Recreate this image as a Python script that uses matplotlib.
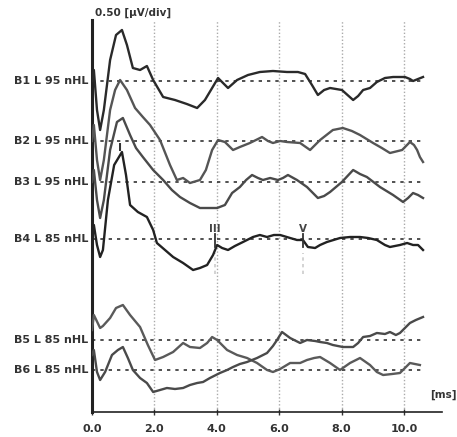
import matplotlib
matplotlib.use("Agg")
import matplotlib.pyplot as plt
import numpy as np

# ---- data (latency in ms, amplitude in display units relative to each trace baseline) ----
trace_labels = ["B1 L 95 nHL", "B2 L 95 nHL", "B3 L 95 nHL", "B4 L 85 nHL", "B5 L 85 nHL", "B6 L 85 nHL"]
baselines = [331, 271, 230, 173, 72, 42]

b1_t = [0, .06, .16, .26, .38, .58, .77, .96, 1.12, 1.31, 1.54, 1.76, 1.96, 2.28, 2.66, 3.04, 3.37, 3.62, 3.85, 4.04,
        4.2, 4.36, 4.65, 5.0, 5.38, 5.8, 6.25, 6.6, 6.83, 7.05, 7.24, 7.44, 7.63, 8.01, 8.37, 8.53, 8.69, 8.91, 9.13,
        9.39, 9.65, 10.03, 10.19, 10.29, 10.45, 10.61]
b1_a = [0, 11, -29, -49, -29, 21, 46, 51, 36, 13, 11, 15, 1, -16, -19, -23, -27, -19, -7, 3,
        -2, -7, 1, 6, 9, 10, 9, 9, 7, -4, -14, -9, -7, -9, -19, -15, -9, -7, -1,
        3, 4, 4, 2, 0, 2, 4]

b2_t = [0, .06, .16, .26, .38, .58, .74, .9, 1.12, 1.38, 1.63, 1.86, 2.18, 2.5, 2.72, 2.92, 3.14, 3.46, 3.65, 3.85,
        4.04, 4.26, 4.52, 4.74, 5.06, 5.45, 5.64, 5.8, 6.03, 6.25, 6.67, 6.99, 7.31, 7.72, 8.04, 8.33, 8.59, 9.01,
        9.29, 9.55, 9.94, 10.19, 10.32, 10.42, 10.51, 10.61]
b2_a = [0, 16, -19, -39, -19, 31, 51, 61, 51, 33, 24, 16, 1, -24, -39, -37, -42, -39, -29, -9,
        1, -1, -9, -6, -2, 4, 0, -2, 0, -1, -2, -9, 1, 11, 13, 10, 6, -2,
        -7, -12, -9, -1, -4, -9, -16, -21]

b3_t = [0, .06, .16, .26, .38, .58, .8, .99, 1.22, 1.41, 1.63, 1.96, 2.28, 2.56, 2.82, 3.14, 3.46, 3.78, 4.01, 4.26,
        4.49, 4.74, 4.94, 5.13, 5.32, 5.48, 5.71, 5.96, 6.12, 6.28, 6.57, 6.89, 7.24, 7.44, 7.63, 8.01, 8.37, 8.59,
        8.81, 9.23, 9.65, 9.97, 10.13, 10.29, 10.45, 10.61]
b3_a = [0, 12, -18, -36, -18, 32, 60, 64, 47, 34, 25, 12, 2, -8, -15, -21, -26, -26, -26, -23,
        -11, -5, 2, 7, 4, 2, 4, 2, 4, 7, 2, -5, -16, -14, -10, 0, 12, 8,
        5, -5, -13, -20, -16, -11, -13, -16]

b4_t = [0, .06, .16, .26, .35, .51, .71, .96, 1.09, 1.22, 1.47, 1.76, 1.96, 2.08, 2.34, 2.6, 2.92, 3.24, 3.46, 3.69,
        3.88, 4.01, 4.17, 4.36, 4.58, 4.84, 5.16, 5.38, 5.61, 5.83, 6.03, 6.35, 6.57, 6.76, 6.92, 7.15, 7.31, 7.53,
        7.95, 8.27, 8.59, 8.85, 9.13, 9.39, 9.55, 9.87, 10.1, 10.29, 10.45, 10.61]
b4_a = [0, 14, -6, -18, -11, 39, 74, 87, 64, 34, 27, 22, 9, -4, -11, -18, -24, -31, -29, -26,
        -16, -6, -9, -11, -7, -3, 2, 4, 2, 4, 4, 1, -1, -1, -8, -9, -6, -3,
        1, 2, 2, 1, -1, -6, -8, -6, -4, -6, -6, -11]

b5_t = [0, .06, .26, .35, .58, .77, .99, 1.22, 1.54, 1.79, 2.02, 2.28, 2.6, 2.92, 3.14, 3.46, 3.69, 3.85, 4.01, 4.33,
        4.65, 4.97, 5.29, 5.61, 5.8, 6.03, 6.35, 6.67, 6.89, 7.12, 7.31, 7.63, 7.95, 8.27, 8.59, 8.91, 9.13, 9.33,
        9.62, 9.87, 10.03, 10.19, 10.35, 10.51]
b5_a = [10, 25, 12, 14, 22, 32, 35, 25, 13, -5, -20, -17, -12, -3, -7, -8, -3, 3, 0, -10,
        -15, -18, -23, -30, -32, -29, -23, -23, -20, -18, -17, -23, -30, -23, -18, -25, -32, -35,
        -34, -33, -28, -23, -24, -25]

b6_t = [0, .06, .16, .26, .42, .64, .83, .99, 1.15, 1.31, 1.54, 1.76, 1.96, 2.18, 2.4, 2.66, 2.92, 3.14, 3.37, 3.56,
        3.78, 4.1, 4.33, 4.52, 4.74, 4.97, 5.29, 5.61, 5.8, 5.93, 6.09, 6.35, 6.67, 6.89, 7.15, 7.31, 7.53, 7.72,
        8.04, 8.37, 8.53, 8.69, 8.91, 9.13, 9.39, 9.55, 9.74, 9.87, 10.03, 10.19, 10.38, 10.61]
b6_a = [15, 20, -2, -10, -2, 15, 20, 23, 12, 0, -8, -13, -22, -20, -18, -19, -18, -15, -13, -12,
        -8, -3, 0, 3, 6, 8, 12, 17, 24, 30, 38, 32, 27, 30, 29, 28, 27, 25,
        23, 23, 27, 33, 34, 37, 36, 38, 35, 37, 42, 47, 50, 53]

traces_t = [b1_t, b2_t, b3_t, b4_t, b5_t, b6_t]
traces_a = [b1_a, b2_a, b3_a, b4_a, b5_a, b6_a]
trace_colors = ["#2a2a2a", "#555555", "#4a4a4a", "#222222", "#5a5a5a", "#4a4a4a"]

xticks = [0, 2, 4, 6, 8, 10]
xtick_labels = ["0.0", "2.0", "4.0", "6.0", "8.0", "10.0"]

# peak markers: (label, latency, trace index)
peaks = [("I", 0.90, 3), ("III", 3.94, 3), ("V", 6.76, 3)]

# ---- figure ----
W, H = 457, 437
fig = plt.figure(figsize=(W / 100, H / 100), dpi=100)
fig.patch.set_facecolor("white")
ax = fig.add_axes([92 / W, 25 / H, 350 / W, 392 / H])
ax.set_xlim(0, 350 / 31.2)
ax.set_ylim(0, 392)

for s in ["top", "right"]:
    ax.spines[s].set_visible(False)
ax.spines["left"].set_linewidth(2.2)
ax.spines["left"].set_color("#222222")
ax.spines["bottom"].set_linewidth(1.2)
ax.spines["bottom"].set_color("#222222")

ax.set_xticks(xticks)
ax.set_xticklabels(xtick_labels, fontsize=8, fontweight="bold", color="#333333")
ax.tick_params(axis="x", direction="inout", length=5, width=1, pad=6, color="#333333")
ax.set_yticks([])

# vertical dotted grid
for xt in xticks[1:]:
    ax.axvline(xt, color="#aaaaaa", lw=1.0, ls=(0, (1, 1.5)), zorder=1)

# baselines and traces
for lab, base, t, a, c in zip(trace_labels, baselines, traces_t, traces_a, trace_colors):
    ax.plot([0, 10.6], [base, base], color="#333333", lw=1.2, ls=(0, (2, 3)), zorder=2)
    ax.plot(t, np.array(a) + base, color=c, lw=1.7, zorder=3, solid_joinstyle="round")
    ax.text(-0.13, base, lab, ha="right", va="center", fontsize=8, fontweight="bold",
            color="#333333", clip_on=False)

# peak markers
for lab, lat, idx in peaks:
    base = baselines[idx]
    if lab == "I":
        ax.text(lat, base + 86, lab, ha="center", va="bottom", fontsize=8, fontweight="bold", color="#333333")
    else:
        ax.plot([lat, lat], [base - 8, base + 5], color="#333333", lw=1.3, zorder=4)
        ax.text(lat, base + 5, lab, ha="center", va="bottom", fontsize=7.5, fontweight="bold", color="#444444")
        ax.plot([lat, lat], [base - 35, base - 14], color="#cccccc", lw=1.2, ls=(0, (2, 2)), zorder=2)

ax.text(0.1, 399, "0.50 [µV/div]", ha="left", va="center", fontsize=7.5, fontweight="bold",
        color="#333333", clip_on=False)
ax.text(11.25, 12, "[ms]", ha="center", va="bottom", fontsize=7.5, fontweight="bold",
        color="#333333", clip_on=False)

fig.savefig("out.png", dpi=100, facecolor="white")
